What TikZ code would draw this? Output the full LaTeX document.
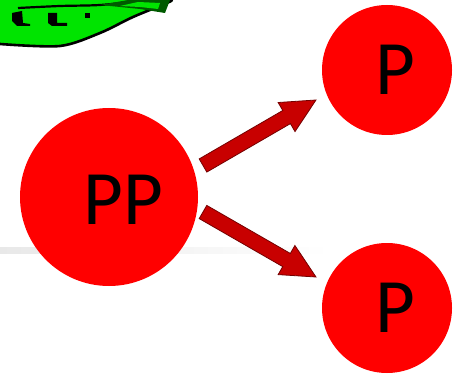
\documentclass[tikz,border=0pt]{standalone}
\usepackage{fontspec}
\setmainfont{Carlito}
\usetikzlibrary{calc}
\definecolor{ballred}{RGB}{255,0,0}
\definecolor{arrowred}{RGB}{200,0,0}
\definecolor{arrowedge}{RGB}{115,0,0}
\definecolor{podgreen}{RGB}{0,228,0}
\definecolor{poddark}{RGB}{0,90,0}
\tikzset{
  ball/.style={circle, fill=ballred, draw=none, inner sep=0pt},
  bigball/.style={ball, minimum size=178pt},
  smallball/.style={ball, minimum size=130pt},
  balltext/.style={font=\fontsize{77}{80}\selectfont, inner sep=0pt, text=black},
  fatarrow/.style={fill=arrowred, draw=arrowedge, line width=0.8pt, line join=miter},
  podline/.style={draw=black, line width=2.6pt, line cap=round},
}
% block arrow from tail #1 to tip #2
\newcommand\blockarrow[2]{%
  \coordinate (#1-base) at ($(#2)!34pt!(#1)$);
  \draw[fatarrow]
    ($(#1)!7.6pt!90:(#2)$) -- ($(#1-base)!7.6pt!90:(#2)$) --
    ($(#1-base)!16.8pt!90:(#2)$) -- (#2) --
    ($(#1-base)!16.8pt!-90:(#2)$) -- ($(#1-base)!7.6pt!-90:(#2)$) --
    ($(#1)!7.6pt!-90:(#2)$) -- cycle;
}
\begin{document}
\begin{tikzpicture}[x=1pt,y=1pt]
  \useasboundingbox (0,0) rectangle (460,375);

  % faint horizontal band
  \shade[left color=black!9, right color=white] (0,122) rectangle (330,128);

  % pea pod in the corner
  \fill[podgreen] (0,375) -- (172,375) -- (172,373)
    -- plot[smooth] coordinates {(167,372) (133,358) (100,342) (60,329) (0,331)}
    -- cycle;
  \draw[podline] plot[smooth] coordinates {(0,331) (60,329) (100,342) (133,358) (167,372) (172,375)};
  \draw[black, line width=2.2pt] plot[smooth] coordinates {(18,367) (60,369) (100,370) (140,374)};
  \fill[poddark] (100,370) -- (128,375) -- (170,375) -- (165,362) -- (140,366) -- cycle;
  \fill[podgreen] (120,369) -- (138,373) -- (160,372) -- (158,366) -- (140,368) -- cycle;
  \fill[black] (12,362) -- (22,364) -- (23,352) -- (30,351) -- (30,349) -- (17,349) -- (12,354) -- cycle;
  \fill[black] (48,362) -- (57,362) -- (57,352) -- (67,352) -- (67,349) -- (52,349) -- (48,352) -- cycle;
  \fill[black] (85,362) -- (90,362) -- (90,357) -- (85,357) -- cycle;

  % balls
  \node[bigball, label={[balltext, xshift=14pt, yshift=-3pt]center:PP}] (pp) at (109,178) {};
  \node[smallball, label={[balltext, xshift=8pt]center:P}] (ptop) at (387,305) {};
  \node[smallball, label={[balltext, xshift=8pt]center:P}] (pbot) at (387,67) {};

  % arrow ends
  \coordinate (uptail) at (203,209.5);
  \coordinate (uptip) at (316,275);
  \coordinate (dntail) at (203,163);
  \coordinate (dntip) at (316,98);

  \blockarrow{uptail}{uptip}
  \blockarrow{dntail}{dntip}
\end{tikzpicture}
\end{document}
